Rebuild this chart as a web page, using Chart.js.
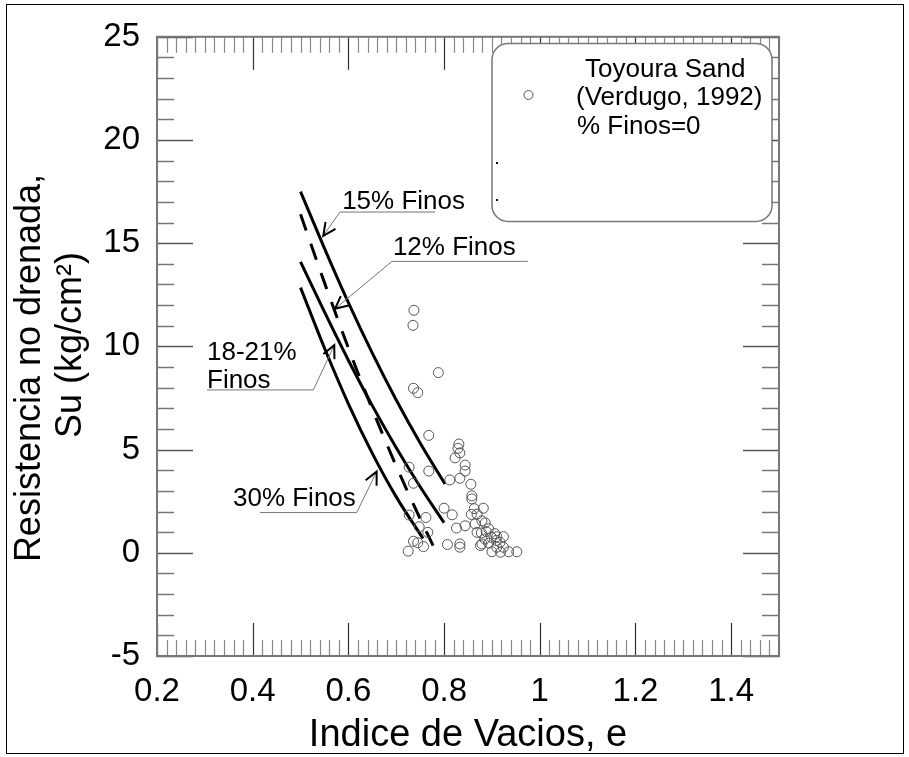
<!DOCTYPE html>
<html>
<head>
<meta charset="utf-8">
<title>Resistencia no drenada vs Indice de Vacios</title>
<script src="https://cdn.jsdelivr.net/npm/chart.js@4.4.0/dist/chart.umd.min.js"></script>
<style>
  body { margin: 0; background: #fff; }
  canvas { display: block; }
</style>
</head>
<body>
<canvas id="myChart" width="909" height="757"></canvas>
<script>
/* globals Chart:false */
"use strict";

// Toyoura Sand (Verdugo, 1992), % Finos = 0
const sandE = [
    0.737, 0.735, 0.788, 0.736, 0.745, 0.768, 0.831, 0.829, 0.833, 0.823,
    0.844, 0.727, 0.768, 0.844, 0.812, 0.833, 0.736, 0.856, 0.858, 0.858,
    0.800, 0.817, 0.863, 0.882, 0.869, 0.857, 0.727, 0.762, 0.879, 0.865,
    0.886, 0.748, 0.826, 0.844, 0.893, 0.766, 0.869, 0.878, 0.888, 0.906,
    0.899, 0.910, 0.924, 0.909, 0.885, 0.917, 0.893, 0.879, 0.876, 0.736,
    0.745, 0.757, 0.807, 0.833, 0.833, 0.910, 0.924, 0.725, 0.900, 0.918,
    0.935, 0.952,
];
const sandSu = [
    11.75, 11.02, 8.73, 7.97, 7.76, 5.69, 5.27, 5.06, 4.84, 4.60,
    4.25, 4.15, 3.96, 3.96, 3.53, 3.61, 3.37, 3.32, 2.76, 2.61,
    2.16, 1.84, 2.14, 2.16, 1.87, 1.86, 1.83, 1.71, 1.55, 1.40,
    1.45, 1.26, 1.20, 1.31, 1.17, 0.99, 0.99, 0.96, 1.03, 0.93,
    0.75, 0.78, 0.78, 0.60, 0.67, 0.51, 0.47, 0.43, 0.35, 0.56,
    0.49, 0.30, 0.40, 0.43, 0.27, 0.27, 0.27, 0.08, 0.05, 0.03,
    0.05, 0.05,
];

// trend curves for each fines content
const finos15E = [0.5, 0.55, 0.6, 0.65, 0.7, 0.75, 0.802];
const finos15Su = [17.5, 14.75, 12.12, 9.67, 7.4, 5.32, 3.33];
const finos12E = [0.5, 0.55, 0.6, 0.65, 0.7, 0.75, 0.777];
const finos12Su = [16.4, 13.09, 9.92, 6.96, 4.2, 1.65, 0.35];
const finos18E = [0.5, 0.55, 0.6, 0.65, 0.7, 0.75, 0.8];
const finos18Su = [14.1, 11.67, 9.33, 7.13, 5.09, 3.2, 1.46];
const finos30E = [0.5, 0.55, 0.6, 0.65, 0.7, 0.756];
const finos30Su = [12.85, 9.92, 7.22, 4.82, 2.71, 0.69];

// axis ticks
const xTickValues = [0.2, 0.4, 0.6, 0.8, 1, 1.2, 1.4];
const yTickValues = [-5, 0, 5, 10, 15, 20, 25];

const FONT = "'Liberation Sans', Arial, sans-serif";

const toPoints = (xs, ys) => xs.map((v, i) => ({ x: v, y: ys[i] }));

const curve = (xs, ys, dash) => ({
    data: toPoints(xs, ys),
    showLine: true,
    pointRadius: 0,
    borderColor: "#000",
    borderWidth: 3,
    borderDash: dash || [],
    cubicInterpolationMode: "monotone",
    fill: false,
});

// frame with inward ticks on all four sides
const frameTicks = {
    id: "frameTicks",
    beforeDatasetsDraw(chart) {
        const { ctx, chartArea: a, scales: { x, y } } = chart;
        ctx.save();
        ctx.lineWidth = 1.2;
        for (let i = 0; i <= 65; i++) {
            const v = 0.2 + i * 0.02;
            const px = Math.round(x.getPixelForValue(v)) + 0.5;
            const major = xTickValues.some((t) => Math.abs(t - v) < 1e-6);
            const len = major ? 33 : 16;
            ctx.strokeStyle = major ? "#333" : "#888";
            ctx.beginPath();
            ctx.moveTo(px, a.bottom);
            ctx.lineTo(px, a.bottom - len);
            ctx.moveTo(px, a.top);
            ctx.lineTo(px, a.top + len);
            ctx.stroke();
        }
        for (let v = -5; v <= 25; v++) {
            const py = Math.round(y.getPixelForValue(v)) + 0.5;
            const major = v % 5 === 0;
            const len = major ? 36 : 17;
            ctx.strokeStyle = major ? "#555" : "#777";
            ctx.lineWidth = 1.6;
            ctx.beginPath();
            ctx.moveTo(a.left, py);
            ctx.lineTo(a.left + len, py);
            ctx.moveTo(a.right, py);
            ctx.lineTo(a.right - len, py);
            ctx.stroke();
        }
        ctx.strokeStyle = "#777";
        ctx.lineWidth = 2;
        ctx.strokeRect(a.left, a.top, a.right - a.left, a.bottom - a.top);
        ctx.restore();
    },
};

function arrow(ctx, x0, y0, x1, y1) {
    // grey leader ending in a black open arrow head
    ctx.strokeStyle = "#777";
    ctx.lineWidth = 1;
    ctx.beginPath();
    ctx.moveTo(x0, y0);
    ctx.lineTo(x1, y1);
    ctx.stroke();
    const ang = Math.atan2(y1 - y0, x1 - x0);
    ctx.strokeStyle = "#000";
    ctx.lineWidth = 2;
    ctx.beginPath();
    ctx.moveTo(x1 - 14 * Math.cos(ang - 0.45), y1 - 14 * Math.sin(ang - 0.45));
    ctx.lineTo(x1, y1);
    ctx.lineTo(x1 - 14 * Math.cos(ang + 0.45), y1 - 14 * Math.sin(ang + 0.45));
    ctx.stroke();
}

const decorations = {
    id: "decorations",
    afterDraw(chart) {
        const { ctx, scales: { x, y } } = chart;
        const P = (e, s) => [x.getPixelForValue(e), y.getPixelForValue(s)];
        ctx.save();

        // legend box
        ctx.fillStyle = "#fff";
        ctx.strokeStyle = "#777";
        ctx.lineWidth = 1.5;
        ctx.beginPath();
        ctx.roundRect(492, 43.5, 280, 178, 16);
        ctx.fill();
        ctx.stroke();
        ctx.strokeStyle = "#555";
        ctx.lineWidth = 1;
        ctx.beginPath();
        ctx.arc(528.5, 95, 4.5, 0, Math.PI * 2);
        ctx.stroke();
        ctx.fillStyle = "#000";
        ctx.fillRect(496, 162, 2, 2);
        ctx.fillRect(496, 199, 2, 2);
        ctx.font = "26px " + FONT;
        ctx.textAlign = "left";
        ctx.textBaseline = "alphabetic";
        ctx.fillText("Toyoura Sand", 585, 77);
        ctx.fillText("(Verdugo, 1992)", 576, 105);
        ctx.fillText("% Finos=0", 577, 134);

        // curve labels with leaders
        const notes = [
            { lines: ["15% Finos"], text: [0.587, 16.67], from: [0.781, 16.51], elbow: [0.5824, 16.51], tip: [0.5475, 15.36] },
            { lines: ["12% Finos"], text: [0.693, 14.41], from: [0.975, 14.12], elbow: [0.6911, 14.12], tip: [0.572, 11.82] },
            { lines: ["18-21%", "Finos"], text: [0.3045, 9.35], from: [0.3045, 7.89], elbow: [0.5267, 7.89], tip: [0.5705, 10.06] },
            { lines: ["30% Finos"], text: [0.3588, 2.27], from: [0.4153, 1.95], elbow: [0.6173, 1.95], tip: [0.6591, 3.93] },
        ];
        notes.forEach((n) => {
            const [tx, ty] = P(...n.text);
            ctx.fillStyle = "#000";
            ctx.font = "26px " + FONT;
            n.lines.forEach((t, i) => ctx.fillText(t, tx, ty + i * 28));
            const [fx, fy] = P(...n.from);
            const [ex, ey] = P(...n.elbow);
            const [px, py] = P(...n.tip);
            ctx.strokeStyle = "#777";
            ctx.lineWidth = 1;
            ctx.beginPath();
            ctx.moveTo(fx, fy);
            ctx.lineTo(ex, ey);
            ctx.stroke();
            arrow(ctx, ex, ey, px, py);
        });

        // axis titles
        ctx.fillStyle = "#000";
        ctx.textAlign = "center";
        ctx.font = "38px " + FONT;
        ctx.fillText("Indice de Vacios, e", (chart.chartArea.left + chart.chartArea.right) / 2, 746);
        ctx.font = "36px " + FONT;
        ctx.save();
        ctx.translate(40, 368);
        ctx.rotate(-Math.PI / 2);
        ctx.fillText("Resistencia no drenada,", 0, 0);
        ctx.restore();
        ctx.save();
        ctx.translate(81, 345);
        ctx.rotate(-Math.PI / 2);
        ctx.fillText("Su (kg/cm\u00b2)", 0, 0);
        ctx.restore();

        // outer border
        ctx.strokeStyle = "#000";
        ctx.lineWidth = 1;
        ctx.strokeRect(6.5, 4.5, 897, 749);
        ctx.restore();
    },
};

const ctx = document.getElementById("myChart");
// eslint-disable-next-line no-unused-vars
const myChart = new Chart(ctx, {
    type: "scatter",
    data: {
        datasets: [
            {
                data: toPoints(sandE, sandSu),
                pointStyle: "circle",
                pointRadius: 5,
                borderWidth: 1,
                borderColor: "#555",
                backgroundColor: "transparent",
            },
            curve(finos15E, finos15Su),
            curve(finos12E, finos12Su, [17, 14]),
            curve(finos18E, finos18Su),
            curve(finos30E, finos30Su),
        ],
    },
    options: {
        responsive: false,
        animation: false,
        layout: { padding: { left: 0, right: 130, top: 33, bottom: 0 } },
        plugins: {
            legend: { display: false },
            tooltip: { enabled: false },
        },
        scales: {
            x: {
                type: "linear",
                min: 0.2,
                max: 1.5,
                grid: { display: false, drawTicks: false },
                border: { display: false },
                afterBuildTicks: (scale) => {
                    scale.ticks = xTickValues.map((v) => ({ value: v }));
                },
                afterFit: (scale) => {
                    scale.height = 101;
                },
                ticks: {
                    padding: 16,
                    color: "#000",
                    font: { family: FONT, size: 33 },
                    callback: (v) => String(v),
                    maxRotation: 0,
                },
            },
            y: {
                type: "linear",
                min: -5,
                max: 25,
                grid: { display: false, drawTicks: false },
                border: { display: false },
                afterBuildTicks: (scale) => {
                    scale.ticks = yTickValues.map((v) => ({ value: v }));
                },
                afterFit: (scale) => {
                    scale.width = 157;
                },
                ticks: {
                    padding: 17,
                    color: "#000",
                    font: { family: FONT, size: 33 },
                    callback: (v) => String(v),
                },
            },
        },
    },
    plugins: [frameTicks, decorations],
});
</script>
</body>
</html>
